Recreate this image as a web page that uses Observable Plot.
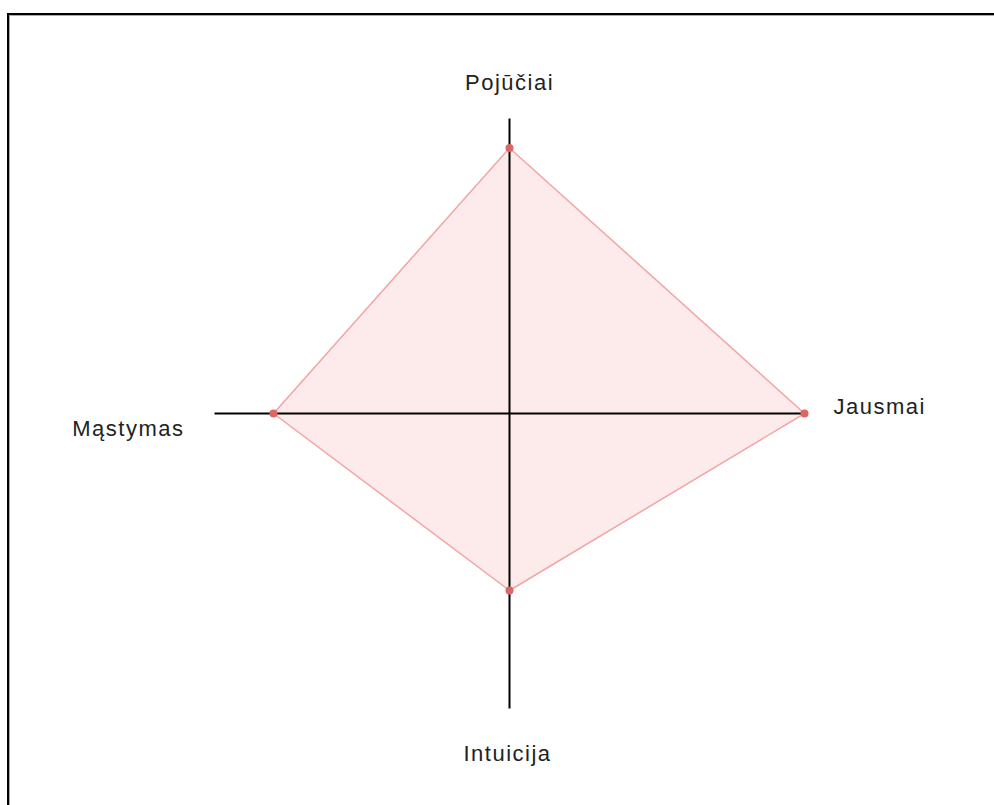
<!DOCTYPE html>
<html>
<head>
<meta charset="utf-8">
<script src="https://cdn.jsdelivr.net/npm/d3@7"></script>
<script src="https://cdn.jsdelivr.net/npm/@observablehq/plot@0.6"></script>
<style>
  html, body { margin: 0; padding: 0; background: #fff; overflow: hidden; }
  #wrap { position: relative; width: 994px; height: 805px; }
  #frame { position: absolute; left: 7px; top: 13px; width: 1200px; height: 1200px;
           border-left: 2px solid #000; border-top: 2px solid #000; box-shadow: inset 1px 1px 0 #aaa; pointer-events: none; }
  svg { display: block; }
</style>
</head>
<body>
<div id="wrap"><div id="chart"></div><div id="frame"></div></div>
<script>
// Axes (clockwise from top) and values
const categories = ["Pojūčiai", "Jausmai", "Intuicija", "Mąstymas"];
const values = [9, 10, 6, 8];
const maxValue = 10;

const angleOf = i => Math.PI / 2 - i * Math.PI / 2; // top, right, bottom, left
const points = categories.map((c, i) => ({
  cat: c,
  x: Math.cos(angleOf(i)) * values[i],
  y: Math.sin(angleOf(i)) * values[i]
}));
const axisEnds = categories.map((c, i) => ({
  cat: c,
  x: Math.round(Math.cos(angleOf(i)) * maxValue * 1e9) / 1e9,
  y: Math.round(Math.sin(angleOf(i)) * maxValue * 1e9) / 1e9
}));

const font = "Liberation Sans, Arial, sans-serif";
const textStyle = { fill: "#222", fontSize: 22, fontFamily: font, lineAnchor: "bottom" };

const chart = Plot.plot({
  width: 994,
  height: 805,
  margin: 0,
  x: { domain: [-maxValue, maxValue], range: [214, 804], axis: null },
  y: { domain: [-maxValue, maxValue], range: [708, 118], axis: null },
  style: { fontFamily: font, background: "white" },
  marks: [
    Plot.line(points, { x: "x", y: "y", curve: "linear-closed", fill: "#fdebeb", stroke: "none" }),
    Plot.link(axisEnds, { x1: 0, y1: 0, x2: "x", y2: "y", stroke: "#000", strokeWidth: 2 }),
    Plot.line(points, { x: "x", y: "y", curve: "linear-closed", stroke: "#f3a4a4", strokeWidth: 1.5 }),
    Plot.dot(points, { x: "x", y: "y", r: 4, fill: "#e06464", stroke: "none" }),
    Plot.text(axisEnds.filter((d, i) => i === 0), { x: "x", y: "y", text: "cat", dy: -29, textAnchor: "middle", ...textStyle }),
    Plot.text(axisEnds.filter((d, i) => i === 1), { x: "x", y: "y", text: "cat", dx: 29, dy: 0, textAnchor: "start", ...textStyle }),
    Plot.text(axisEnds.filter((d, i) => i === 2), { x: "x", y: "y", text: "cat", dx: -2, dy: 52, textAnchor: "middle", ...textStyle }),
    Plot.text(axisEnds.filter((d, i) => i === 3), { x: "x", y: "y", text: "cat", dx: -30, dy: 22, textAnchor: "end", ...textStyle })
  ]
});
chart.querySelectorAll("text").forEach(t => t.setAttribute("letter-spacing", "1.5"));
document.getElementById("chart").appendChild(chart);
</script>
</body>
</html>
